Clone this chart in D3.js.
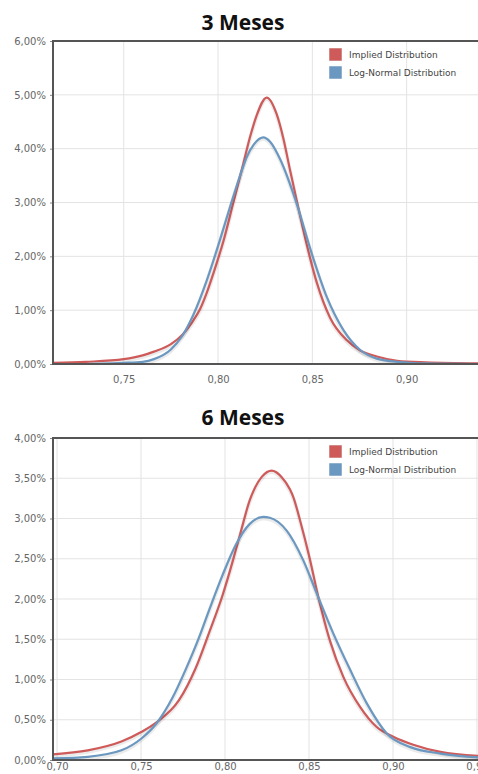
<!DOCTYPE html>
<html>
<head>
<meta charset="utf-8">
<script src="https://cdn.jsdelivr.net/npm/d3@7"></script>
<style>
  body { margin: 0; background: #fff; }
  svg { display: block; }
  .tick-label { font-family: 'DejaVu Sans', Verdana, sans-serif; font-size: 10px; fill: #666; }
  .legend-label { font-family: 'DejaVu Sans', Verdana, sans-serif; font-size: 9px; fill: #444; }
  .title { font-family: 'Open Sans', sans-serif; font-weight: bold; font-size: 21px; fill: #111; }
</style>
</head>
<body>
<svg id="chart" width="478" height="774"></svg>
<script>
// values, x = rate, y = probability in %
const seriesNames = ['Implied Distribution', 'Log-Normal Distribution'];

const m3Implied = [
  [0.7125, 0.02], [0.730, 0.04], [0.750, 0.09], [0.760, 0.16], [0.766, 0.23],
  [0.775, 0.37], [0.781, 0.54], [0.786, 0.76], [0.7905, 1.02], [0.794, 1.32],
  [0.7975, 1.68], [0.803, 2.30], [0.808, 2.98], [0.8134, 3.72], [0.817, 4.22],
  [0.8205, 4.62], [0.8258, 4.95], [0.8311, 4.64], [0.8347, 4.18], [0.8382, 3.60],
  [0.8426, 2.90], [0.847, 2.22], [0.8523, 1.52], [0.8594, 0.86], [0.8683, 0.44],
  [0.8754, 0.25], [0.8842, 0.14], [0.895, 0.06], [0.910, 0.03], [0.9389, 0.01]
];
const m3LogNormal = [
  [0.7125, 0.00], [0.730, 0.00], [0.750, 0.02], [0.760, 0.04], [0.766, 0.09],
  [0.775, 0.27], [0.781, 0.52], [0.787, 0.92], [0.794, 1.55], [0.801, 2.30],
  [0.8064, 2.92], [0.8117, 3.50], [0.8152, 3.84], [0.819, 4.08], [0.824, 4.21],
  [0.8276, 4.13], [0.833, 3.80], [0.8417, 2.98], [0.8497, 2.05], [0.8576, 1.25],
  [0.8665, 0.63], [0.8754, 0.26], [0.8842, 0.10], [0.895, 0.04], [0.910, 0.01],
  [0.9389, 0.00]
];
const m6Implied = [
  [0.6976, 0.07], [0.7183, 0.12], [0.7383, 0.23], [0.7504, 0.35], [0.7594, 0.47],
  [0.7725, 0.74], [0.7825, 1.14], [0.7905, 1.58], [0.7986, 2.05], [0.8046, 2.47],
  [0.8096, 2.85], [0.8146, 3.22], [0.8169, 3.34], [0.822, 3.52], [0.8278, 3.595],
  [0.8335, 3.52], [0.8387, 3.36], [0.8406, 3.27], [0.845, 2.95], [0.850, 2.54],
  [0.8556, 2.02], [0.8625, 1.48], [0.8705, 1.03], [0.8804, 0.66], [0.8903, 0.41],
  [0.9002, 0.29], [0.9121, 0.19], [0.9283, 0.10], [0.9518, 0.05]
];
const m6LogNormal = [
  [0.6976, 0.02], [0.7183, 0.04], [0.7383, 0.12], [0.7504, 0.27], [0.7594, 0.46],
  [0.7684, 0.76], [0.7765, 1.12], [0.7845, 1.52], [0.7905, 1.86], [0.7986, 2.30],
  [0.8066, 2.68], [0.8146, 2.93], [0.8228, 3.02], [0.8267, 3.01], [0.8367, 2.85],
  [0.8466, 2.48], [0.8546, 2.07], [0.8645, 1.57], [0.8745, 1.12], [0.8845, 0.70],
  [0.8963, 0.33], [0.9103, 0.16], [0.9283, 0.08], [0.9518, 0.03]
];

const m3XTicks = [0.75, 0.80, 0.85, 0.90];
const m3YTicks = [0, 1, 2, 3, 4, 5, 6];
const m6XTicks = [0.70, 0.75, 0.80, 0.85, 0.90, 0.95];
const m6YTicks = [0, 0.5, 1, 1.5, 2, 2.5, 3, 3.5, 4];

const COLORS = ['#cf5a5a', '#6b98c1'];
const BORDERS = ['#b04545', '#4f7ea8'];

const locale = d3.formatLocale({ decimal: ',', thousands: '.', grouping: [3], currency: ['', '€'] });
const fmtX = locale.format('.2f');
const fmtY = function (v) { return locale.format('.2f')(v) + '%'; };

const svg = d3.select('#chart');

function drawPanel (cfg) {
  const g = svg.append('g');
  const x = d3.scaleLinear().domain(cfg.xDomain).range([cfg.left, cfg.right]);
  const y = d3.scaleLinear().domain(cfg.yDomain).range([cfg.bottom, cfg.top]);

  g.append('text')
    .attr('class', 'title')
    .attr('x', 243)
    .attr('y', cfg.titleY)
    .attr('text-anchor', 'middle')
    .text(cfg.title);

  // grid
  g.append('g').selectAll('line')
    .data(cfg.xTicks)
    .join('line')
    .attr('x1', d => x(d)).attr('x2', d => x(d))
    .attr('y1', cfg.top).attr('y2', cfg.bottom)
    .attr('stroke', '#e3e3e3').attr('stroke-width', 1);
  g.append('g').selectAll('line')
    .data(cfg.yTicks)
    .join('line')
    .attr('x1', cfg.left).attr('x2', cfg.right)
    .attr('y1', d => y(d)).attr('y2', d => y(d))
    .attr('stroke', '#e3e3e3').attr('stroke-width', 1);

  // axes
  const yAxis = d3.axisLeft(y).tickValues(cfg.yTicks).tickFormat(fmtY).tickSize(3).tickPadding(4);
  const ya = g.append('g').attr('transform', 'translate(' + cfg.left + ',0)').call(yAxis);
  const xAxis = d3.axisBottom(x).tickValues(cfg.xTicks).tickFormat(fmtX).tickSize(0).tickPadding(cfg.xPad);
  const xa = g.append('g').attr('transform', 'translate(0,' + cfg.bottom + ')').call(xAxis);
  [ya, xa].forEach(function (a) {
    a.select('.domain').remove();
    a.selectAll('.tick line').attr('stroke', '#888');
    a.selectAll('.tick text').attr('class', 'tick-label').attr('fill', null);
  });

  // curves
  const line = d3.line()
    .x(d => x(d[0]))
    .y(d => y(d[1]))
    .curve(d3.curveMonotoneX);
  const clipId = 'clip' + cfg.id;
  g.append('clipPath').attr('id', clipId)
    .append('rect')
    .attr('x', cfg.left).attr('y', cfg.top)
    .attr('width', cfg.right - cfg.left).attr('height', cfg.bottom - cfg.top);
  const plot = g.append('g').attr('clip-path', 'url(#' + clipId + ')');
  cfg.series.forEach(function (s, i) {
    plot.append('path')
      .datum(s)
      .attr('d', line)
      .attr('transform', 'translate(0,1.5)')
      .attr('fill', 'none')
      .attr('stroke', '#000')
      .attr('stroke-opacity', 0.08)
      .attr('stroke-width', 4);
    plot.append('path')
      .datum(s)
      .attr('d', line)
      .attr('fill', 'none')
      .attr('stroke', COLORS[i])
      .attr('stroke-width', 2.2);
  });

  // frame
  g.append('path')
    .attr('d', 'M' + cfg.right + ',' + cfg.top + 'H' + cfg.left + 'V' + cfg.bottom + 'H' + cfg.right)
    .attr('fill', 'none')
    .attr('stroke', '#555')
    .attr('stroke-width', 2);

  // legend
  const lg = g.append('g');
  seriesNames.forEach(function (name, i) {
    const yy = cfg.legendY + i * 18;
    lg.append('rect')
      .attr('x', 329.5).attr('y', yy - 6.5)
      .attr('width', 12).attr('height', 12)
      .attr('fill', COLORS[i])
      .attr('stroke', BORDERS[i]).attr('stroke-opacity', 0.35);
    lg.append('text')
      .attr('class', 'legend-label')
      .attr('x', 349).attr('y', yy + 3)
      .text(name);
  });
}

drawPanel({
  id: 3,
  title: '3 Meses',
  titleY: 30,
  left: 53, right: 480, top: 41, bottom: 364,
  xDomain: [0.7125, 0.9389],
  yDomain: [0, 6],
  xTicks: m3XTicks,
  yTicks: m3YTicks,
  xPad: 12,
  legendY: 55,
  series: [m3Implied, m3LogNormal]
});

drawPanel({
  id: 6,
  title: '6 Meses',
  titleY: 425,
  left: 53, right: 480, top: 438, bottom: 760,
  xDomain: [0.6976, 0.9518],
  yDomain: [0, 4],
  xTicks: m6XTicks,
  yTicks: m6YTicks,
  xPad: 3,
  legendY: 452,
  series: [m6Implied, m6LogNormal]
});
</script>
</body>
</html>
